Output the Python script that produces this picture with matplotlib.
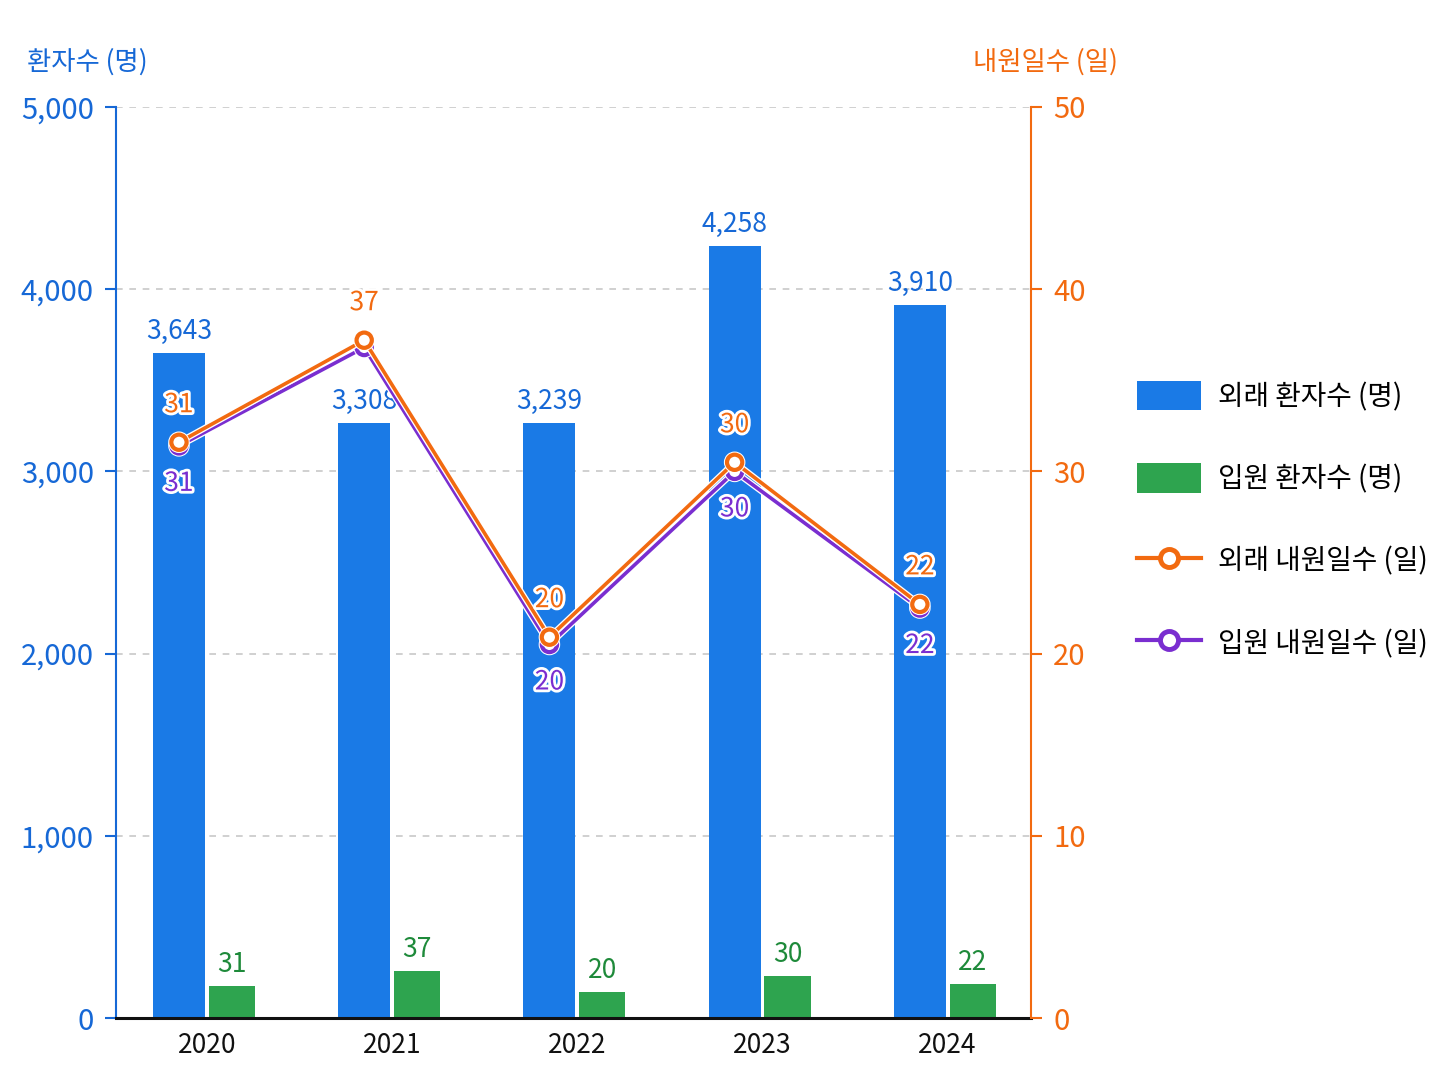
import matplotlib.pyplot as plt
import matplotlib.patheffects as pe
from matplotlib.patches import Patch
from matplotlib.lines import Line2D
import numpy as np

plt.rcParams['font.family'] = ['Noto Sans CJK KR', 'DejaVu Sans']

# data
years = ['2020', '2021', '2022', '2023', '2024']
outpatients_label = [3643, 3308, 3239, 4258, 3910]    # 외래 환자수 (명), printed labels
outpatients_bar = [3650, 3266, 3266, 4237, 3913]      # blue bar heights as drawn
inpatients_bar = [175, 258, 143, 230, 187]            # 입원 환자수 bar heights as drawn
inpatients_label = [31, 37, 20, 30, 22]               # labels printed on the green bars
out_days = [31.6, 37.2, 20.9, 30.5, 22.7]             # 외래 내원일수 (일)
in_days = [31.4, 36.8, 20.5, 30.0, 22.5]              # 입원 내원일수 (일)

BLUE = '#1a7ae6'
BLUE_TXT = '#1668d6'
GREEN = '#2ea44f'
GREEN_TXT = '#1e8a3a'
ORANGE = '#f26a10'
PURPLE = '#7a2ed0'

fig = plt.figure(figsize=(14.48, 10.86), dpi=100)
ax = fig.add_axes([116 / 1448, 1 - 1018 / 1086, (1031 - 116) / 1448, (1018 - 107) / 1086])
ax2 = ax.twinx()

x = np.arange(len(years))
bw_blue = 0.28
bw_green = 0.25
gap = 0.01

ax.bar(x - gap, outpatients_bar, width=-bw_blue, align='edge', color=BLUE, zorder=2)
ax.bar(x + gap, inpatients_bar, width=bw_green, align='edge', color=GREEN, zorder=2)

for xi, v, lab in zip(x, outpatients_bar, outpatients_label):
    ax.annotate(f'{lab:,}', (xi - gap - bw_blue / 2, v), xytext=(0, 6), textcoords='offset points',
                ha='center', va='bottom', fontsize=19, color=BLUE_TXT)
for xi, v, lab in zip(x, inpatients_bar, inpatients_label):
    ax.annotate(f'{lab}', (xi + gap + bw_green / 2, v), xytext=(0, 6), textcoords='offset points',
                ha='center', va='bottom', fontsize=19, color=GREEN_TXT)

ax.set_ylim(0, 5000)
ax.set_yticks(np.arange(0, 5001, 1000))
ax.set_yticklabels([f'{t:,}' for t in range(0, 5001, 1000)])
ax.set_xlim(-0.49, 4.45)
ax.set_xticks(x)
ax.set_xticklabels(years)
ax.tick_params(axis='x', length=0, pad=10, labelsize=19, labelcolor='#111111')
ax.tick_params(axis='y', colors=BLUE_TXT, labelsize=21, length=8, width=1.5, pad=8)
ax.grid(axis='y', linestyle=(0, (4, 4)), color='#c8c8c8', linewidth=1.2, zorder=0)
ax.set_axisbelow(True)

for s in ['top', 'right']:
    ax.spines[s].set_visible(False)
ax.spines['left'].set_color(BLUE_TXT)
ax.spines['left'].set_linewidth(1.5)
ax.spines['bottom'].set_color('#111111')
ax.spines['bottom'].set_linewidth(2.2)
ax.spines['bottom'].set_zorder(5)

# lines on the right axis
lx = x - gap - bw_blue / 2
halo = [pe.Stroke(linewidth=4.5, foreground='white'), pe.Normal()]
ax2.plot(lx, in_days, color=PURPLE, lw=2.6, marker='o', ms=11, mfc='white', mec=PURPLE,
         mew=3, zorder=3, path_effects=halo)
ax2.plot(lx, out_days, color=ORANGE, lw=2.6, marker='o', ms=11, mfc='white', mec=ORANGE,
         mew=3, zorder=4, path_effects=halo)

txt_halo = [pe.Stroke(linewidth=4, foreground='white'), pe.Normal()]
for xi, v in zip(lx, out_days):
    ax2.annotate(f'{int(v)}', (xi, v), xytext=(0, 27), textcoords='offset points',
                 ha='center', va='center', fontsize=19, color=ORANGE, fontweight='medium',
                 path_effects=txt_halo, zorder=6)
for i, (xi, v) in enumerate(zip(lx, in_days)):
    if i == 1:
        # hidden in the reference: it would collide with the bar value label
        continue
    ax2.annotate(f'{int(v)}', (xi, v), xytext=(0, -27), textcoords='offset points',
                 ha='center', va='center', fontsize=19, color=PURPLE, fontweight='medium',
                 path_effects=txt_halo, zorder=6)

ax2.set_ylim(0, 50)
ax2.set_yticks(np.arange(0, 51, 10))
ax2.tick_params(axis='y', colors=ORANGE, labelsize=21, length=8, width=1.5, pad=8)
for s in ['top', 'left', 'bottom']:
    ax2.spines[s].set_visible(False)
ax2.spines['right'].set_color(ORANGE)
ax2.spines['right'].set_linewidth(1.5)

fig.text(27 / 1448, 1 - 62 / 1086, '환자수 (명)', color=BLUE_TXT, fontsize=19,
         ha='left', va='center')
fig.text(1118 / 1448, 1 - 62 / 1086, '내원일수 (일)', color=ORANGE, fontsize=19,
         ha='right', va='center')

handles = [
    Patch(facecolor=BLUE, edgecolor='none'),
    Patch(facecolor=GREEN, edgecolor='none'),
    Line2D([], [], color=ORANGE, lw=3, marker='o', ms=13, mfc='white', mec=ORANGE, mew=3.5),
    Line2D([], [], color=PURPLE, lw=3, marker='o', ms=13, mfc='white', mec=PURPLE, mew=3.5),
]
labels = ['외래 환자수 (명)', '입원 환자수 (명)', '외래 내원일수 (일)', '입원 내원일수 (일)']
fig.legend(handles, labels, loc='center left', bbox_to_anchor=(1137 / 1448, 1 - 520 / 1086),
           frameon=False, fontsize=20, handlelength=2.3, handleheight=1.25,
           handletextpad=0.6, labelspacing=1.85, borderpad=0, borderaxespad=0)

fig.savefig('out.png', dpi=100, facecolor='white')
